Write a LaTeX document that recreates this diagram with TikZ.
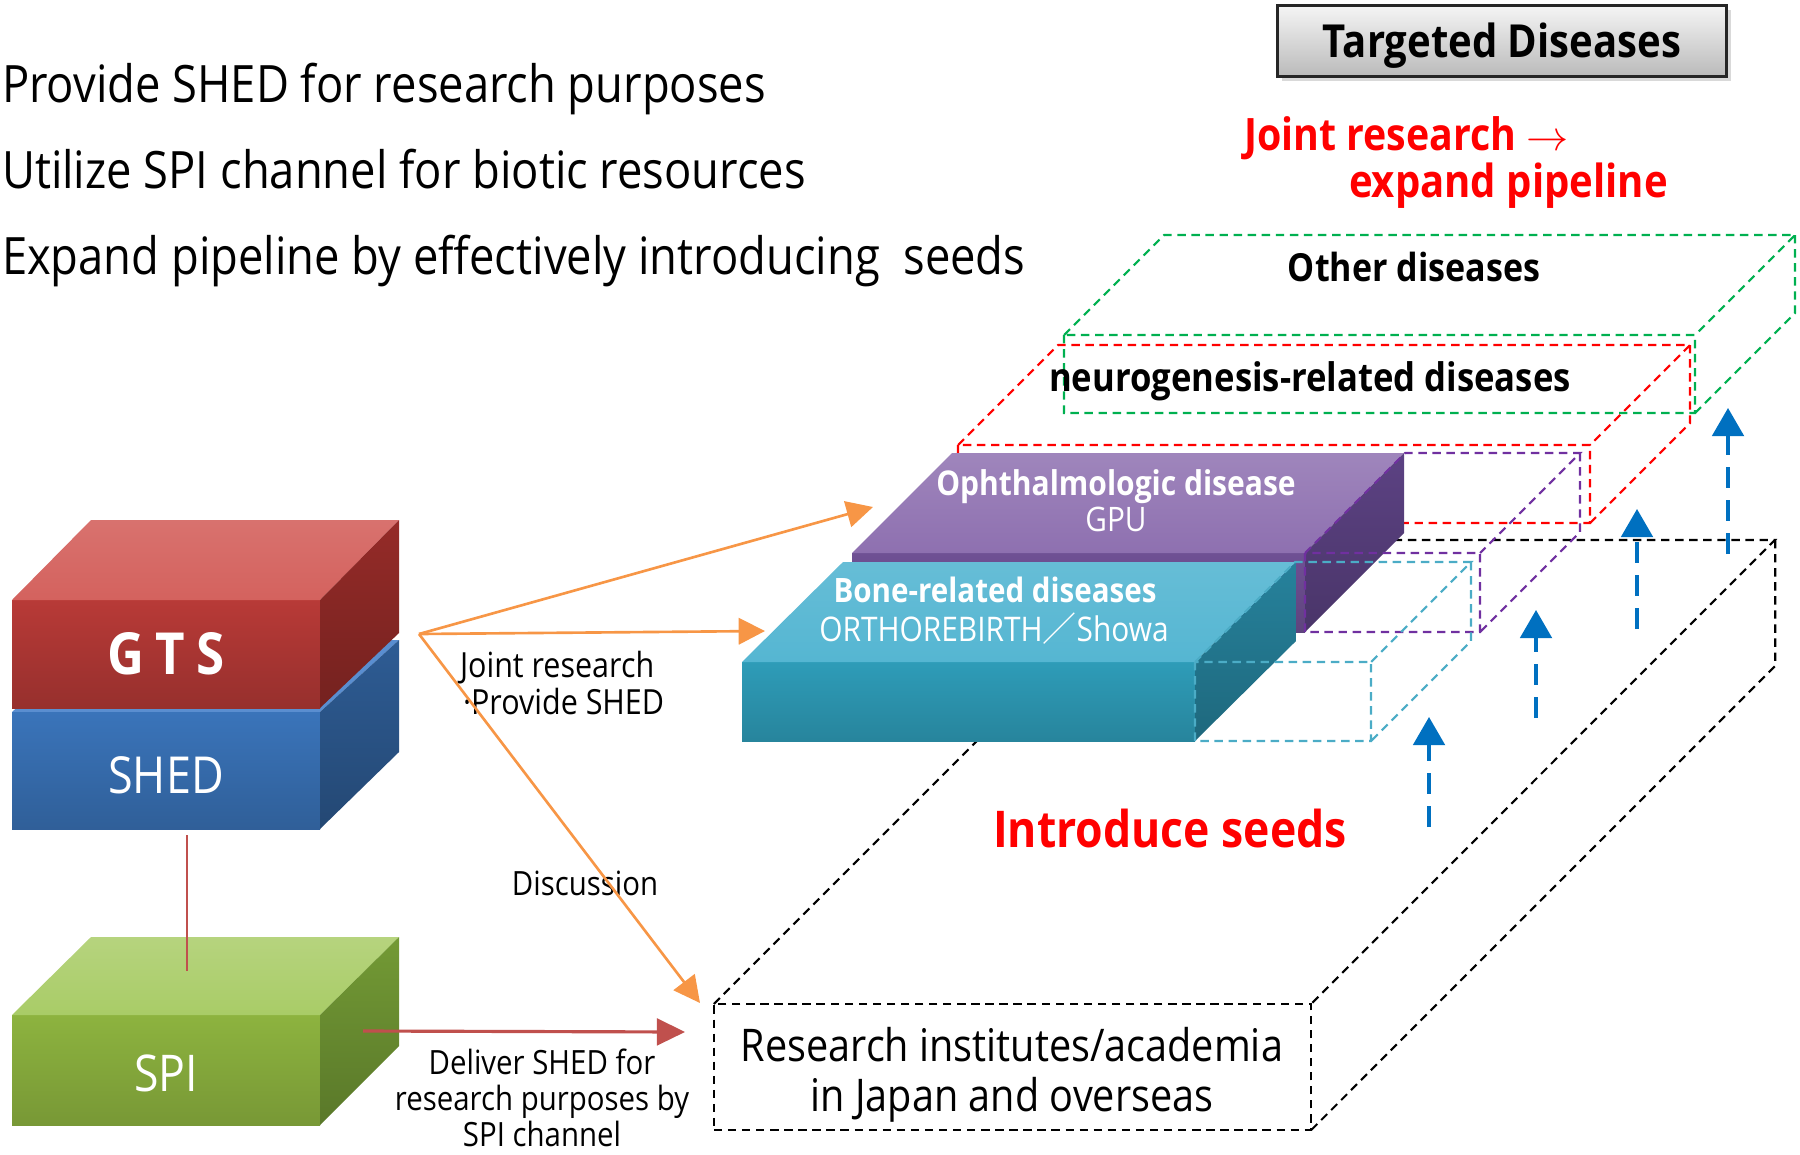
\documentclass[tikz,border=0pt]{standalone}
\usepackage{fontspec}
\setmainfont[FakeStretch=0.88]{Open Sans}
\newfontfamily\cjkfont{Noto Sans CJK JP}
\usetikzlibrary{arrows.meta, shadows}
\newcommand{\fsz}[2]{\fontsize{#1pt}{#2pt}\selectfont}

\definecolor{gtsfront}{HTML}{B83A37}
\definecolor{gtstop}{HTML}{D4625E}
\definecolor{gtsside}{HTML}{952B28}
\definecolor{shedfront}{HTML}{3A74BA}
\definecolor{shedtop}{HTML}{5A8ED0}
\definecolor{shedside}{HTML}{2E5C94}
\definecolor{spifront}{HTML}{8DB33F}
\definecolor{spitop}{HTML}{A9CC67}
\definecolor{spiside}{HTML}{739A35}
\definecolor{ophfront}{HTML}{6F5094}
\definecolor{ophtop}{HTML}{8E70B0}
\definecolor{ophside}{HTML}{5C4283}
\definecolor{bonefront}{HTML}{2E9CB8}
\definecolor{bonetop}{HTML}{55B6D2}
\definecolor{boneside}{HTML}{26829C}
\definecolor{ghostcyan}{HTML}{4BACC6}
\definecolor{ghostpurple}{HTML}{7030A0}
\definecolor{ghostred}{HTML}{FF0000}
\definecolor{ghostgreen}{HTML}{00B050}
\definecolor{arroworange}{HTML}{F79646}
\definecolor{linkred}{HTML}{C0504D}
\definecolor{seedblue}{HTML}{0070C0}
\definecolor{headred}{HTML}{FF0000}

\begin{document}
\begin{tikzpicture}[x=0.01cm, y=-0.01cm,
        lbl/.style={inner sep=0pt, outer sep=0pt, anchor=base},
        ghostline/.style={line width=0.6pt, dash pattern=on 2.4pt off 1.6pt},
        orangearrow/.style={draw=arroworange, line width=0.75pt, -{Triangle[length=7.5pt, width=7.5pt]}},
        deliverarrow/.style={draw=linkred, line width=0.9pt, -{Triangle[length=8pt, width=7.6pt]}},
        seedarrow/.style={draw=seedblue, line width=0.95pt, dash pattern=on 6pt off 3.4pt, -{Triangle[length=8pt, width=9pt]}}]
    \useasboundingbox (0,0) rectangle (1800,1154);

    % aims
    \node[lbl, anchor=base west, font=\fsz{14.65}{17}] (aim1) at (2,102) {Provide SHED for research purposes};
    \node[lbl, anchor=base west, font=\fsz{14.65}{17}] (aim2) at (2,188) {Utilize SPI channel for biotic resources};
    \node[lbl, anchor=base west, font=\fsz{14.65}{17}] (aim3) at (2,274) {Expand pipeline by effectively introducing\ \ seeds};

    % heading
    \node[draw=black!85, line width=0.7pt, top color=black!4, bottom color=black!27,
        minimum width=4.49cm, minimum height=0.71cm, text height=9.2pt, text depth=0pt, inner sep=0pt,
        font=\fsz{12.95}{15}\bfseries, drop shadow={opacity=0.3, shadow xshift=1.2pt, shadow yshift=-1.2pt}]
        (target) at (1502,41) {Targeted Diseases};
    \node[lbl, anchor=base west, text=headred, font=\fsz{12.7}{15}\bfseries] (joint) at (1244,150) {Joint research $\rightarrow$};
    \node[lbl, anchor=base west, text=headred, font=\fsz{12.95}{15}\bfseries] (expand) at (1349,197) {expand pipeline};

    % research institutes slab
    \node[draw, ghostline, minimum width=5.97cm, minimum height=1.26cm, inner sep=0pt, outer sep=0pt] (res) at (1012.5,1067) {};
    \node[lbl, anchor=north, align=center, font=\fsz{12.8}{14.2}] (restext) at (1012,1027) {Research institutes/academia\\in Japan and overseas};
    \draw[ghostline] (res.north west) -- ++(464,-464) -- ++(597,0) -- (res.north east)
        ++(464,-464) -- ++(0,126) -- (res.south east);

    % pipeline boxes behind the blocks
    \foreach \xa/\ya/\xb/\yb/\col in {958/445/1590/523/ghostred, 1064/335/1695/413/ghostgreen}
        \draw[ghostline, \col] (\xa,\ya) rectangle (\xb,\yb)
            (\xa,\ya) -- ++(100,-100) -- (\xb+100,\ya-100) -- (\xb,\ya)
            (\xb+100,\ya-100) -- (\xb+100,\yb-100) -- (\xb,\yb);

    % ophthalmologic block
    \shade[top color=ophfront, bottom color=ophfront!85!black] (852,553) rectangle (1305,632);
    \shade[top color=ophtop!85!white, bottom color=ophtop] (852,553) -- (952,453) -- (1404,453) -- (1305,553) -- cycle;
    \shade[top color=ophside, bottom color=ophside!80!black] (1305,553) -- (1404,453) -- (1404,533) -- (1305,632) -- cycle;

    % bone block
    \shade[top color=bonefront, bottom color=bonefront!85!black] (742,662) rectangle (1195,741);
    \shade[top color=bonetop!90!white, bottom color=bonetop] (742,662) -- (843,562) -- (1296,562) -- (1195,662) -- cycle;
    \shade[top color=boneside, bottom color=boneside!80!black] (1195,662) -- (1296,562) -- (1296,641) -- (1195,741) -- cycle;

    % pipeline boxes in front
    \foreach \xa/\ya/\xb/\yb/\col in {1305/553/1480/632/ghostpurple, 1195/662/1371/741/ghostcyan}
        \draw[ghostline, \col] (\xa,\ya) rectangle (\xb,\yb)
            (\xa,\ya) -- ++(100,-100) -- (\xb+100,\ya-100) -- (\xb,\ya)
            (\xb+100,\ya-100) -- (\xb+100,\yb-100) -- (\xb,\yb);

    \node[lbl, text=white, font=\fsz{9.7}{12}\bfseries] (oph) at (1116,495) {Ophthalmologic disease};
    \node[lbl, text=white, font=\fsz{9.6}{12}] (gpu) at (1116,531) {GPU};
    \node[lbl, text=white, font=\fsz{9.55}{12}\bfseries] (bone) at (995,602) {Bone-related diseases};
    \node[lbl, text=white, font=\fsz{9.65}{12}] (ortho) at (994,641) {ORTHOREBIRTH{\cjkfont ／}Showa};
    \node[lbl, font=\fsz{11}{13}\bfseries] (other) at (1414,281) {Other diseases};
    \node[lbl, font=\fsz{11.2}{13}\bfseries] (neuro) at (1310,391) {neurogenesis-related diseases};
    \node[lbl, text=headred, font=\fsz{14.4}{17}\bfseries] (seeds) at (1170,847) {Introduce seeds};

    % SPI block
    \shade[top color=spifront, bottom color=spifront!85!black] (12,1015) rectangle (320,1125);
    \shade[top color=spitop!85!white, bottom color=spitop] (12,1015) -- (91,937) -- (399,937) -- (320,1015) -- cycle;
    \shade[top color=spiside, bottom color=spiside!78!black] (320,1015) -- (399,937) -- (399,1046) -- (320,1125) -- cycle;
    \node[lbl, text=white, font=\fsz{14.4}{17}] (spi) at (166,1091) {SPI};

    % SHED block
    \fill[shedtop] (12,712) -- (91,640) -- (399,640) -- (320,712) -- cycle;
    \shade[top color=shedfront, bottom color=shedfront!82!black] (12,712) rectangle (320,829);
    \shade[top color=shedside, bottom color=shedside!78!black] (320,712) -- (399,640) -- (399,752) -- (320,829) -- cycle;
    \node[lbl, text=white, font=\fsz{14.5}{17}] (shed) at (166,793) {SHED};

    % GTS block
    \shade[top color=gtsfront, bottom color=gtsfront!82!black] (12,600) rectangle (320,708);
    \shade[top color=gtstop!90!white, bottom color=gtstop] (12,600) -- (91,520) -- (399,520) -- (320,600) -- cycle;
    \shade[top color=gtsside, bottom color=gtsside!78!black] (320,600) -- (399,520) -- (399,633) -- (320,708) -- cycle;
    \node[lbl, text=white, font=\fsz{16.5}{19}\bfseries] (gts) at (166,674) {G\hspace{3.2pt}T\hspace{3.2pt}S};

    % arrow labels
    \node[lbl, anchor=base west, font=\fsz{9.85}{11}] (jr) at (460,677) {Joint research};
    \node[lbl, anchor=base west, font=\fsz{9.85}{11}] (ps) at (463,714) {·Provide SHED};
    \node[lbl, font=\fsz{9.5}{11}] (disc) at (585,895) {Discussion};
    \node[lbl, anchor=north, align=center, font=\fsz{9.5}{10.2}] (deliver) at (542,1049) {Deliver SHED for\\research purposes by\\SPI channel};

    % connectors
    \coordinate (hub) at (419,634);
    \coordinate (ophtip) at (873,507);
    \coordinate (bonetip) at (765,631);
    \coordinate (restip) at (700,1003);
    \coordinate (shedfoot) at (187,835);
    \coordinate (spideck) at (187,971);
    \coordinate (spiside) at (363,1031);
    \coordinate (delivertip) at (685,1032);
    \draw[linkred, line width=0.6pt] (shedfoot) -- (spideck);
    \draw[deliverarrow] (spiside) -- (delivertip);
    \draw[orangearrow] (hub) -- (ophtip);
    \draw[orangearrow] (hub) -- (bonetip);
    \draw[orangearrow] (hub) -- (restip);

    % seeds rising
    \foreach \x/\ylow/\ytip in {1429/827/717, 1536/718/610, 1637/629/509, 1728/554/408}
        \draw[seedarrow] (\x,\ylow) -- (\x,\ytip);
\end{tikzpicture}
\end{document}
